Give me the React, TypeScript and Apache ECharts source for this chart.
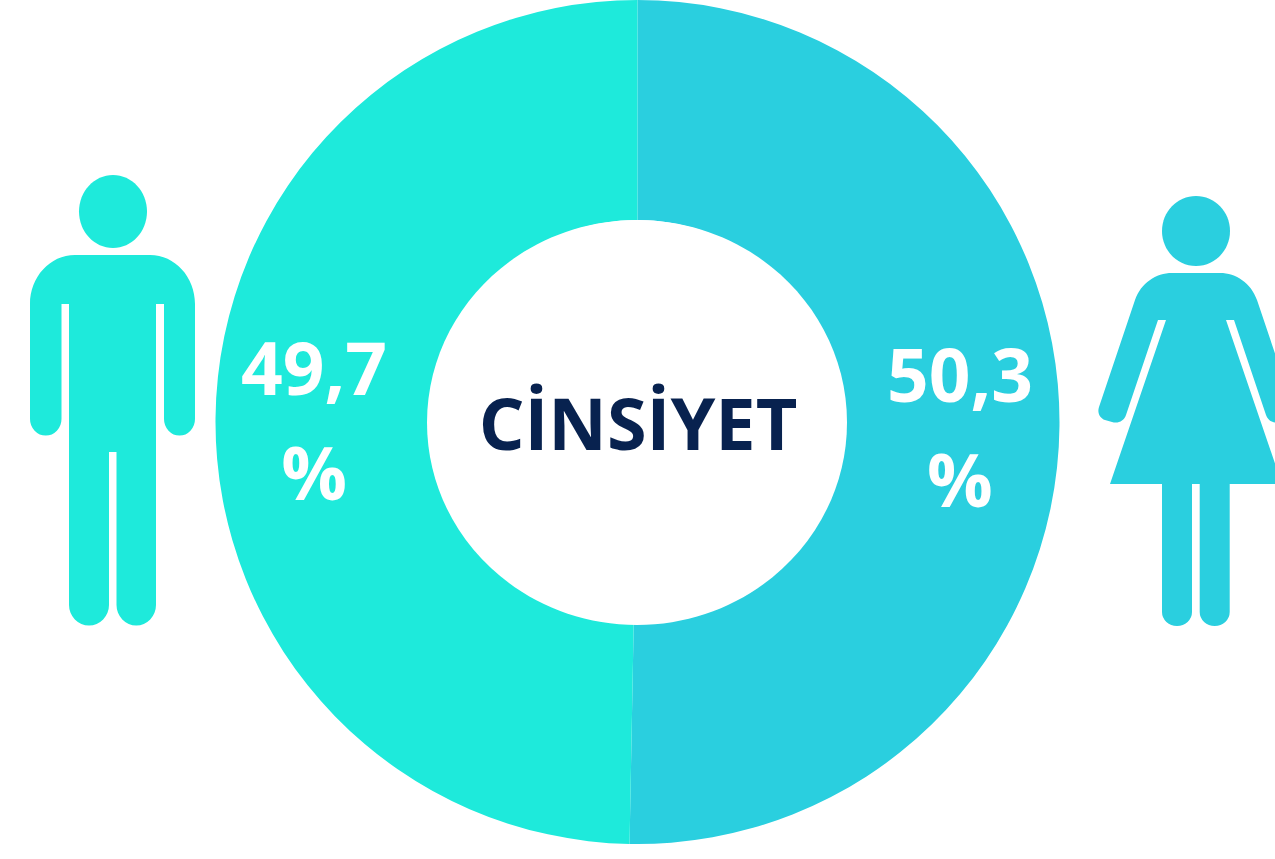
import React, { useEffect, useRef } from "react";
import * as echarts from "echarts";

const categories = ["Kadın", "Erkek"];
const values = [50.3, 49.7];
const valueLabels = ["50,3", "49,7"];
const centerTitle = "CİNSİYET";

const TEAL = "#1EEADB";
const CYAN = "#2ACFDF";
const NAVY = "#08224F";
const FONT = "'Open Sans', Lato, sans-serif";

const manBody =
  "M75,255 L150,255 C175,255 195,277 195,304 L195,419 A15.5,16.5 0 0 1 164,419 L164,304 L156,304 L156,605 A19.75,20.5 0 0 1 116.5,605 L116.5,452 L109,452 L109,605 A20,20.5 0 0 1 69,605 L69,304 L61.5,304 L61.5,419 A15.75,16.5 0 0 1 30,419 L30,304 C30,277 50,255 75,255 Z";

const womanBody =
  "M1172,273 L1220,273 C1236,273 1251,283 1257,300 L1293,407 C1295,413 1292,418 1287,420 L1280,422 C1274,424 1268,421 1266,415 L1234,320 L1226,320 L1282,484 L1229.7,484 L1229.7,612 A15,14 0 0 1 1199.7,612 L1199.7,484 L1192,484 L1192,612 A15,14 0 0 1 1162,612 L1162,484 L1110,484 L1166,320 L1158,320 L1126,415 C1124,421 1118,424 1112,422 L1105,420 C1100,418 1097,413 1099,407 L1135,300 C1141,283 1156,273 1172,273 Z";

echarts.graphic.registerShape("manBody", echarts.graphic.extendPath(manBody, {}));
echarts.graphic.registerShape("womanBody", echarts.graphic.extendPath(womanBody, {}));

export default function App() {
  const ref = useRef<HTMLDivElement>(null);

  useEffect(() => {
    document.body.style.margin = "0";
    const chart = echarts.init(ref.current!, undefined, { renderer: "svg" });
    const labelStyle = {
      show: true,
      position: "inside" as const,
      color: "#FFFFFF",
      fontFamily: FONT,
      fontWeight: 700,
      fontSize: 73,
      lineHeight: 105,
      formatter: (p: any) => `${valueLabels[p.dataIndex]}\n%`,
    };
    chart.setOption({
      animation: false,
      backgroundColor: "#FFFFFF",
      series: [
        {
          type: "pie",
          center: [637.5, 422],
          radius: [202, 422],
          startAngle: 90,
          clockwise: true,
          silent: true,
          labelLine: { show: false },
          data: [
            {
              name: categories[0],
              value: values[0],
              itemStyle: { color: CYAN },
              label: { ...labelStyle, offset: [7.5, 1] },
            },
            {
              name: categories[1],
              value: values[1],
              itemStyle: { color: TEAL },
              label: { ...labelStyle, offset: [-8.5, 0] },
            },
          ],
        },
      ],
      graphic: [
        {
          type: "ellipse",
          silent: true,
          z: 5,
          shape: { cx: 637, cy: 422.5, rx: 210, ry: 202.5 },
          style: { fill: "#FFFFFF" },
        },
        {
          type: "text",
          silent: true,
          z: 6,
          x: 638,
          y: 422,
          style: {
            text: centerTitle,
            fill: NAVY,
            font: `700 72px ${FONT}`,
            textAlign: "center",
            textVerticalAlign: "middle",
          },
        },
        {
          type: "ellipse",
          silent: true,
          z: 1,
          shape: { cx: 113, cy: 211.5, rx: 34, ry: 36.5 },
          style: { fill: TEAL },
        },
        { type: "manBody", silent: true, z: 1, x: 0, y: 0, style: { fill: TEAL } },
        {
          type: "ellipse",
          silent: true,
          z: 1,
          shape: { cx: 1196, cy: 231, rx: 34, ry: 35 },
          style: { fill: CYAN },
        },
        { type: "womanBody", silent: true, z: 1, x: 0, y: 0, style: { fill: CYAN } },
      ],
    });
    return () => chart.dispose();
  }, []);

  return (
    <div
      ref={ref}
      style={{ position: "absolute", left: 0, top: 0, width: 1275, height: 859 }}
    />
  );
}
